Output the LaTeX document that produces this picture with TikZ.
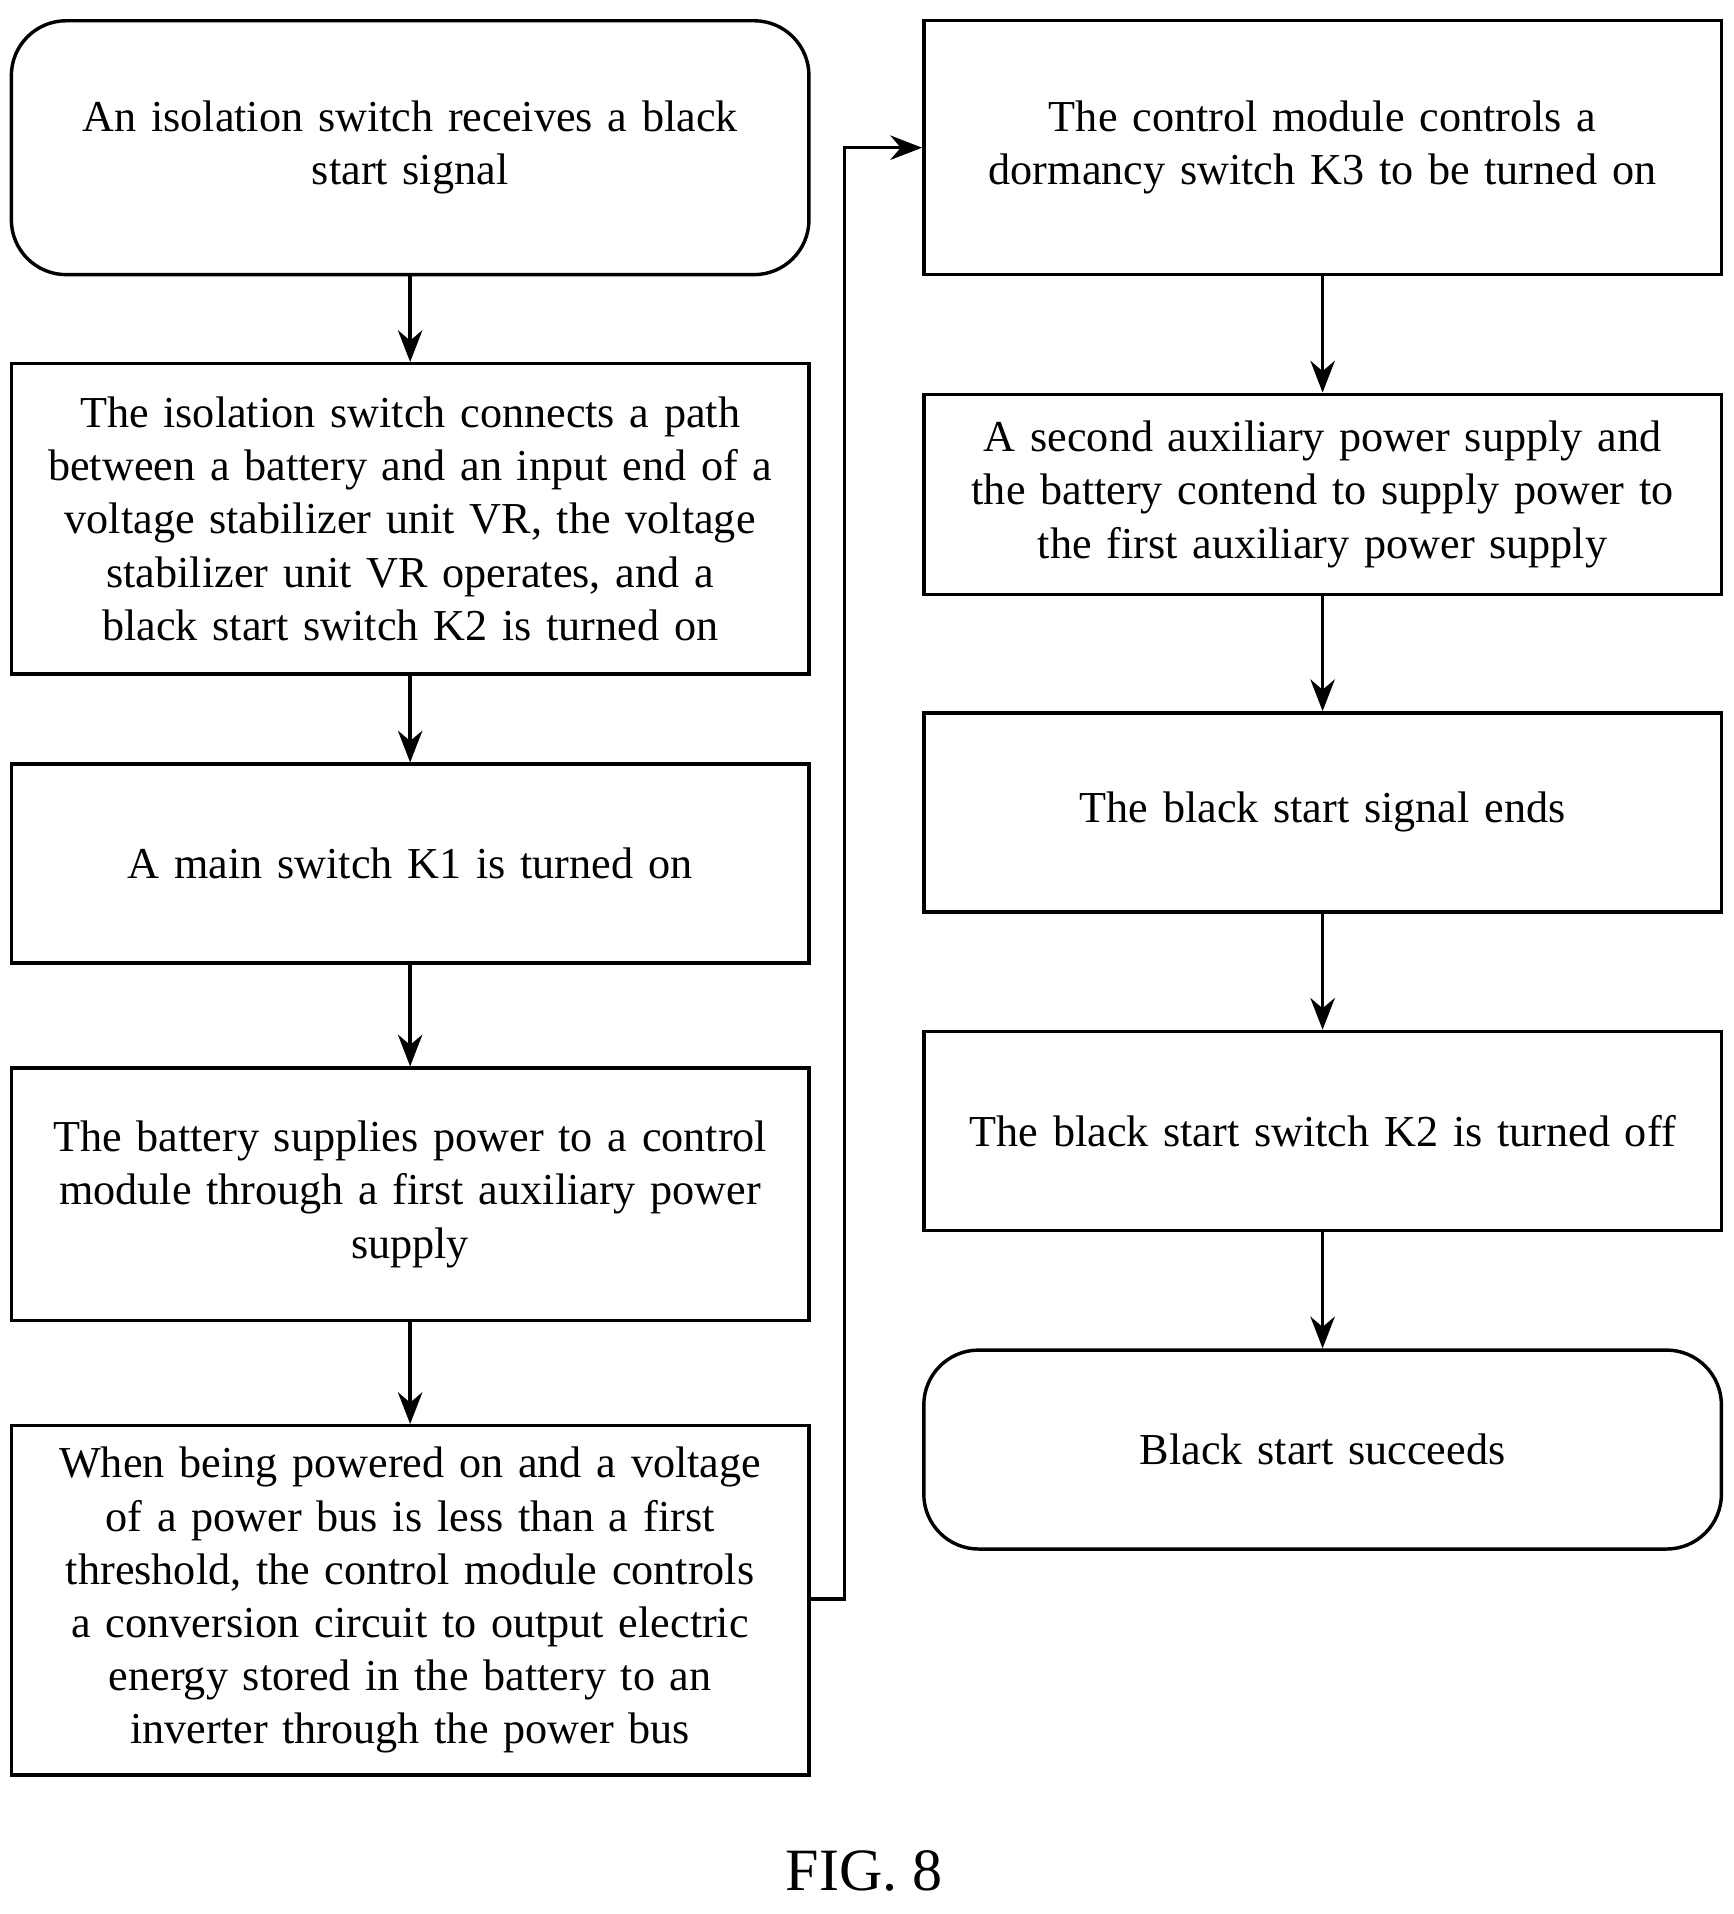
\documentclass[tikz,border=0pt]{standalone}
\usepackage{fontspec}
\setmainfont{Liberation Serif}
\usetikzlibrary{positioning, arrows.meta}

\tikzset{
    stage/.style={draw, thick, minimum width=6.38cm, text width=6.3cm, align=center,
        font=\fontsize{10.3}{12.4}\selectfont},
    term/.style={stage, rounded corners=0.45cm},
    flow/.style={thick, -{Stealth[length=2.6mm, width=2mm]}}
}

\begin{document}
\begin{tikzpicture}
        \useasboundingbox (0, 0) rectangle (14.2, -15.68);

        \node[term, minimum height=2.08cm] (b1) at (3.36, -1.21) {An isolation switch receives a black\\ start signal};
        \node[stage, minimum height=2.54cm] (b2) at (3.36, -4.25) {The isolation switch connects a path\\ between a battery and an input end of a\\ voltage stabilizer unit VR, the voltage\\ stabilizer unit VR operates, and a\\ black start switch K2 is turned on};
        \node[stage, minimum height=1.63cm] (b3) at (3.36, -7.075) {A main switch K1 is turned on};
        \node[stage, minimum height=2.07cm] (b4) at (3.36, -9.785) {The battery supplies power to a control\\ module through a first auxiliary power\\ supply};
        \node[stage, minimum height=2.86cm] (b5) at (3.36, -13.11) {When being powered on and a voltage\\ of a power bus is less than a first\\ threshold, the control module controls\\ a conversion circuit to output electric\\ energy stored in the battery to an\\ inverter through the power bus};

        \node[stage, minimum height=2.08cm] (r1) at (10.835, -1.21) {The control module controls a\\ dormancy switch K3 to be turned on};
        \node[stage, minimum height=1.64cm] (r2) at (10.835, -4.05) {A second auxiliary power supply and\\ the battery contend to supply power to\\ the first auxiliary power supply};
        \node[stage, minimum height=1.63cm] (r3) at (10.835, -6.655) {The black start signal ends};
        \node[stage, minimum height=1.63cm] (r4) at (10.835, -9.265) {The black start switch K2 is turned off};
        \node[term, minimum height=1.63cm] (r5) at (10.835, -11.875) {Black start succeeds};

        \node[font=\fontsize{14}{16}\selectfont] (fig) at (7.08, -15.33) {FIG. 8};

        \draw[flow] (b1) to (b2);
        \draw[flow] (b2) to (b3);
        \draw[flow] (b3) to (b4);
        \draw[flow] (b4) to (b5);
        \draw[flow] (b5.east |- 0, -13.1) -- (6.92, -13.1) |- (r1.west);
        \draw[flow] (r1) to (r2);
        \draw[flow] (r2) to (r3);
        \draw[flow] (r3) to (r4);
        \draw[flow] (r4) to (r5);
    \end{tikzpicture}
\end{document}
